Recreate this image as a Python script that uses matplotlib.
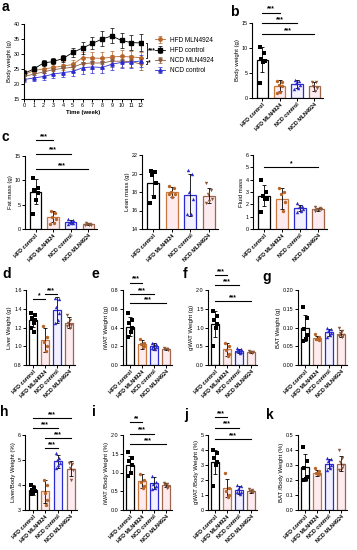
import numpy as np
import matplotlib
matplotlib.use("Agg")
import matplotlib.pyplot as plt

plt.rcParams['font.family'] = ['Liberation Sans', 'DejaVu Sans']

W, H = 357, 550

# ---- data ----
groups = ["HFD control", "HFD MLN4924", "NCD control", "NCD MLN4924"]

weeks = list(range(13))
a_hfd_mln = [23.0, 24.5, 25.0, 25.5, 26.0, 26.5, 28.8, 28.7, 28.5, 29.0, 29.2, 29.0, 28.8]
a_hfd_ctrl = [23.5, 25.0, 27.0, 27.5, 28.5, 30.5, 32.0, 33.5, 35.0, 36.0, 34.5, 33.8, 33.7]
a_ncd_mln = [22.5, 23.3, 24.0, 24.8, 25.2, 25.6, 26.8, 27.0, 27.0, 27.6, 27.6, 27.5, 26.6]
a_ncd_ctrl = [21.5, 22.0, 22.5, 23.3, 23.8, 24.2, 25.4, 25.7, 25.5, 26.6, 27.2, 27.3, 27.7]
a_sd_hfd_ctrl = [1.0, 1.0, 1.0, 1.0, 1.2, 1.5, 2.0, 2.0, 2.5, 2.5, 2.5, 2.5, 2.8]
a_sd_other = [1.0, 1.0, 1.2, 1.2, 1.5, 1.5, 2.0, 2.0, 2.0, 2.0, 2.0, 2.0, 2.0]

b_pts = [[10.3, 9.0, 7.8, 7.5, 7.2, 3.0], [3.5, 3.3, 2.7, 2.5, 1.2, 1.0],
         [3.7, 3.4, 3.0, 2.6, 2.0, 1.8], [3.3, 3.2, 2.5, 2.0, 1.5]]
b_means = [7.7, 2.5, 2.8, 2.4]
b_sds = [2.5, 1.1, 0.8, 0.9]

fat_pts = [[10.5, 8.5, 8.0, 7.5, 6.0, 3.0], [3.8, 3.3, 2.5, 2.0, 1.2, 1.0],
           [2.0, 1.8, 1.5, 1.3, 1.2, 1.0], [1.2, 1.1, 1.0, 0.9, 0.8, 0.9]]
fat_means = [7.7, 2.5, 1.5, 1.0]
fat_sds = [2.5, 1.1, 0.35, 0.15]

lean_pts = [[20.3, 20.2, 19.8, 19.0, 17.5, 16.8], [18.7, 18.4, 18.0, 17.8, 17.5, 17.8],
            [20.4, 20.0, 18.0, 17.2, 15.6, 15.6], [19.0, 18.2, 17.8, 17.2, 17.0, 16.8]]
lean_means = [19.0, 18.0, 17.7, 17.6]
lean_sds = [1.3, 0.5, 2.3, 0.8]

fluid_pts = [[4.0, 3.0, 2.7, 2.4, 2.4, 1.4], [3.3, 3.0, 2.8, 2.2, 1.5],
             [2.1, 1.9, 1.8, 1.6, 1.5, 1.4], [1.8, 1.7, 1.65, 1.6, 1.55, 1.5]]
fluid_means = [2.7, 2.45, 1.7, 1.6]
fluid_sds = [0.85, 0.85, 0.25, 0.12]

liver_pts = [[1.35, 1.33, 1.30, 1.28, 1.25, 1.20, 1.15], [1.22, 1.10, 1.05, 1.00, 0.95],
             [1.52, 1.50, 1.42, 1.35, 1.28, 1.25], [1.33, 1.28, 1.25, 1.23, 1.20, 1.22]]
liver_means = [1.28, 1.07, 1.39, 1.25]
liver_sds = [0.07, 0.13, 0.14, 0.06]

iwat_pts = [[0.55, 0.48, 0.45, 0.40, 0.35, 0.30], [0.28, 0.24, 0.22, 0.20, 0.19],
            [0.24, 0.22, 0.20, 0.19, 0.17, 0.18], [0.18, 0.175, 0.17, 0.165, 0.17]]
iwat_means = [0.41, 0.22, 0.20, 0.17]
iwat_sds = [0.10, 0.05, 0.04, 0.01]

gwat_pts = [[1.45, 1.30, 1.20, 1.10, 1.00, 0.50], [0.60, 0.50, 0.40, 0.30, 0.25],
            [0.45, 0.42, 0.40, 0.35, 0.33, 0.38], [0.37, 0.36, 0.35, 0.34, 0.33]]
gwat_means = [1.1, 0.42, 0.38, 0.35]
gwat_sds = [0.35, 0.18, 0.06, 0.02]

bat_pts = [[0.155, 0.125, 0.095, 0.080, 0.070, 0.065], [0.082, 0.075, 0.070, 0.068, 0.070],
           [0.100, 0.095, 0.090, 0.085, 0.080, 0.075], [0.100, 0.090, 0.085, 0.080, 0.075, 0.078]]
bat_means = [0.098, 0.072, 0.087, 0.084]
bat_sds = [0.035, 0.006, 0.01, 0.01]

liverbw_pts = [[4.0, 3.9, 3.8, 3.75, 3.7, 3.65], [4.2, 4.0, 3.7, 3.4, 3.2],
               [5.3, 5.1, 5.0, 4.9, 4.8, 4.7], [4.9, 4.85, 4.7, 4.6, 4.2]]
liverbw_means = [3.8, 3.75, 4.95, 4.65]
liverbw_sds = [0.2, 0.45, 0.25, 0.3]

iwatbw_pts = [[1.55, 1.40, 1.30, 1.20, 1.00, 0.90], [0.95, 0.80, 0.75, 0.65, 0.60],
              [0.90, 0.75, 0.70, 0.65, 0.60, 0.55], [0.72, 0.70, 0.66, 0.62, 0.60]]
iwatbw_means = [1.2, 0.77, 0.72, 0.66]
iwatbw_sds = [0.25, 0.18, 0.15, 0.05]

gwatbw_pts = [[4.0, 3.8, 3.5, 3.2, 3.0, 1.6], [2.5, 1.5, 1.3, 1.0, 0.9],
              [1.7, 1.6, 1.4, 1.2, 1.1, 1.2], [1.4, 1.35, 1.3, 1.2, 1.2]]
gwatbw_means = [3.2, 1.45, 1.35, 1.25]
gwatbw_sds = [0.8, 0.6, 0.25, 0.1]

batbw_pts = [[0.42, 0.33, 0.28, 0.22, 0.21, 0.20], [0.28, 0.26, 0.25, 0.24, 0.24],
             [0.35, 0.34, 0.33, 0.30, 0.28, 0.27], [0.40, 0.35, 0.32, 0.30, 0.28, 0.27]]
batbw_means = [0.285, 0.25, 0.31, 0.31]
batbw_sds = [0.09, 0.02, 0.03, 0.05]

# ---- style ----
edge_cols = ["black", "#c8783c", "#2b2bd0", "#a0654a"]
fill_cols = ["white", "#fdebf0", "#f3f0ff", "#fdebf0"]
pt_cols = ["black", "#b8652a", "#2b2bd0", "#8b5a3c"]
pt_marks = ["s", "o", "^", "v"]
jit = [-0.14, 0.12, -0.06, 0.16, 0.04, -0.16, 0.08]
TICK = 3.9
LAB = 4.3


def ax_px(l, t, r, b):
    return fig.add_axes([l / W, 1 - b / H, (r - l) / W, (b - t) / H])


def style(ax):
    for s in ["top", "right"]:
        ax.spines[s].set_visible(False)
    for s in ["left", "bottom"]:
        ax.spines[s].set_linewidth(0.8)
    ax.tick_params(width=0.7, length=2, labelsize=TICK, pad=1)


def bar_panel(ax, means, sds, pts, ylim, yticks, ylabel, fmt="{:g}"):
    x = np.arange(4)
    for i in range(4):
        ax.bar(x[i], means[i], width=0.64, color=fill_cols[i], edgecolor=edge_cols[i], linewidth=0.9, zorder=1)
        ax.errorbar(x[i], means[i], yerr=sds[i], color="black", capsize=1.6, elinewidth=0.6,
                    capthick=0.6, zorder=3)
        px = [x[i] + jit[k % len(jit)] for k in range(len(pts[i]))]
        ax.scatter(px, pts[i], marker=pt_marks[i], s=6, color=pt_cols[i], zorder=4, linewidths=0)
    ax.set_xlim(-0.6, 3.5)
    ax.set_ylim(*ylim)
    ax.set_yticks(yticks)
    ax.set_yticklabels([fmt.format(v) for v in yticks])
    ax.set_xticks(x)
    ax.set_xticklabels(groups, rotation=45, ha="right", rotation_mode="anchor", fontweight="bold")
    ax.set_ylabel(ylabel, fontsize=LAB, labelpad=1.5)
    style(ax)


def sig(ax, i, j, y, txt):
    ax.plot([i, j], [y, y], color="black", lw=0.8, clip_on=False)
    ax.text((i + j) / 2, y, txt, ha="center", va="bottom", fontsize=4.8, fontweight="bold")


def panel_label(x, y, s):
    fig.text(x / W, 1 - y / H, s, fontsize=10, fontweight="bold", va="top", ha="left")


fig = plt.figure(figsize=(W / 100, H / 100), dpi=100)

# a
ax = ax_px(24, 24, 143, 99)
series = [(a_hfd_mln, a_sd_other, "#b8652a", "o", "HFD MLN4924"),
          (a_hfd_ctrl, a_sd_hfd_ctrl, "black", "s", "HFD control"),
          (a_ncd_mln, a_sd_other, "#8b5a3c", "v", "NCD MLN4924"),
          (a_ncd_ctrl, a_sd_other, "#2b2bd0", "^", "NCD control")]
for vals, sd, c, m, lab in series:
    ax.errorbar(weeks, vals, yerr=sd, color=c, marker=m, ms=2.4, lw=0.6, elinewidth=0.5,
                capsize=1.5, capthick=0.5, label=lab, ecolor=c)
ax.set_xlim(0, 12.2)
ax.set_ylim(15, 40)
ax.set_xticks(weeks)
ax.set_yticks([15, 20, 25, 30, 35, 40])
ax.set_xlabel("Time (week)", fontsize=LAB, fontweight="bold", labelpad=1)
ax.set_ylabel("Body weight (g)", fontsize=LAB, labelpad=1.5)
style(ax)
ax.plot([12.5, 12.6, 12.6, 12.5], [33.7, 33.7, 28.8, 28.8], color="black", lw=0.6, clip_on=False)
ax.text(12.75, 31.25, "***", fontsize=4.8, fontweight="bold", va="center")
ax.plot([12.5, 12.6, 12.6, 12.5], [27.7, 27.7, 26.6, 26.6], color="black", lw=0.6, clip_on=False)
ax.text(12.75, 27.0, "*", fontsize=4.8, fontweight="bold", va="center")
ax.legend(loc="center left", bbox_to_anchor=(1.08, 0.58), fontsize=4.7, frameon=False,
          handlelength=1.5, labelspacing=0.5, borderaxespad=0)
panel_label(2, 0, "a")

# b
ax = ax_px(252, 23, 323, 98)
bar_panel(ax, b_means, b_sds, b_pts, (0, 15), [0, 5, 10, 15], "Body weight (g)")
sig(ax, 0, 1, 17.1, "***")
sig(ax, 0, 2, 15.0, "***")
sig(ax, 0, 3, 12.8, "***")
panel_label(230, 5, "b")

# c
ax = ax_px(25, 156, 97, 229)
bar_panel(ax, fat_means, fat_sds, fat_pts, (0, 15), [0, 5, 10, 15], "Fat mass (g)")
sig(ax, 0, 1, 18.2, "***")
sig(ax, 0, 2, 15.5, "***")
sig(ax, 0, 3, 12.3, "***")
ax = ax_px(142, 155, 218, 229)
bar_panel(ax, lean_means, lean_sds, lean_pts, (14, 22), [14, 16, 18, 20, 22], "Lean mass (g)")
ax = ax_px(253, 155, 327, 229)
bar_panel(ax, fluid_means, fluid_sds, fluid_pts, (0, 6), [0, 1, 2, 3, 4, 5, 6], "Fluid mass")
sig(ax, 0, 3, 5.0, "*")
panel_label(2, 130, "c")

# d-g
ax = ax_px(26, 290, 75, 365)
bar_panel(ax, liver_means, liver_sds, liver_pts, (0.8, 1.6), [0.8, 1.0, 1.2, 1.4, 1.6],
          "Liver Weight (g)", "{:.1f}")
sig(ax, 0, 1, 1.5, "*")
sig(ax, 1, 2, 1.56, "***")
panel_label(2, 267, "d")

ax = ax_px(123, 290, 172, 365)
bar_panel(ax, iwat_means, iwat_sds, iwat_pts, (0, 0.8), [0, 0.2, 0.4, 0.6, 0.8],
          "iWAT Weight (g)", "{:.1f}")
sig(ax, 0, 1, 0.88, "***")
sig(ax, 0, 2, 0.76, "***")
sig(ax, 0, 3, 0.66, "***")
panel_label(92, 267, "e")

ax = ax_px(208, 290, 257, 365)
bar_panel(ax, gwat_means, gwat_sds, gwat_pts, (0, 2.0), [0, 0.5, 1.0, 1.5, 2.0],
          "gWAT Weight (g)", "{:.1f}")
sig(ax, 0, 1, 2.4, "***")
sig(ax, 0, 2, 2.13, "***")
sig(ax, 0, 3, 1.7, "***")
panel_label(183, 267, "f")

ax = ax_px(298, 290, 347, 365)
bar_panel(ax, bat_means, bat_sds, bat_pts, (0, 0.20), [0, 0.05, 0.10, 0.15, 0.20],
          "BAT Weight (g)", "{:.2f}")
panel_label(262, 270, "g")

# h-k
ax = ax_px(25, 435, 77, 510)
bar_panel(ax, liverbw_means, liverbw_sds, liverbw_pts, (3, 6), [3, 4, 5, 6], "Liver/Body Weight (%)")
sig(ax, 0, 3, 6.69, "***")
sig(ax, 0, 2, 6.27, "***")
sig(ax, 1, 3, 5.87, "***")
sig(ax, 1, 2, 5.47, "***")
panel_label(0, 405, "h")

ax = ax_px(123, 435, 172, 510)
bar_panel(ax, iwatbw_means, iwatbw_sds, iwatbw_pts, (0, 2.0), [0, 0.5, 1.0, 1.5, 2.0],
          "iWAT /Body Weight (%)", "{:.1f}")
sig(ax, 0, 1, 2.34, "**")
sig(ax, 0, 2, 2.04, "***")
sig(ax, 0, 3, 1.76, "***")
panel_label(92, 405, "i")

ax = ax_px(208, 435, 257, 510)
bar_panel(ax, gwatbw_means, gwatbw_sds, gwatbw_pts, (0, 5), [0, 1, 2, 3, 4, 5],
          "gWAT /Body Weight (%)")
sig(ax, 0, 1, 6.2, "***")
sig(ax, 0, 2, 5.5, "***")
sig(ax, 0, 3, 4.73, "***")
panel_label(184, 408, "j")

ax = ax_px(298, 435, 347, 510)
bar_panel(ax, batbw_means, batbw_sds, batbw_pts, (0, 0.5), [0, 0.1, 0.2, 0.3, 0.4, 0.5],
          "BAT /Body Weight (%)", "{:.1f}")
panel_label(266, 408, "k")

fig.savefig("out.png", dpi=100)
